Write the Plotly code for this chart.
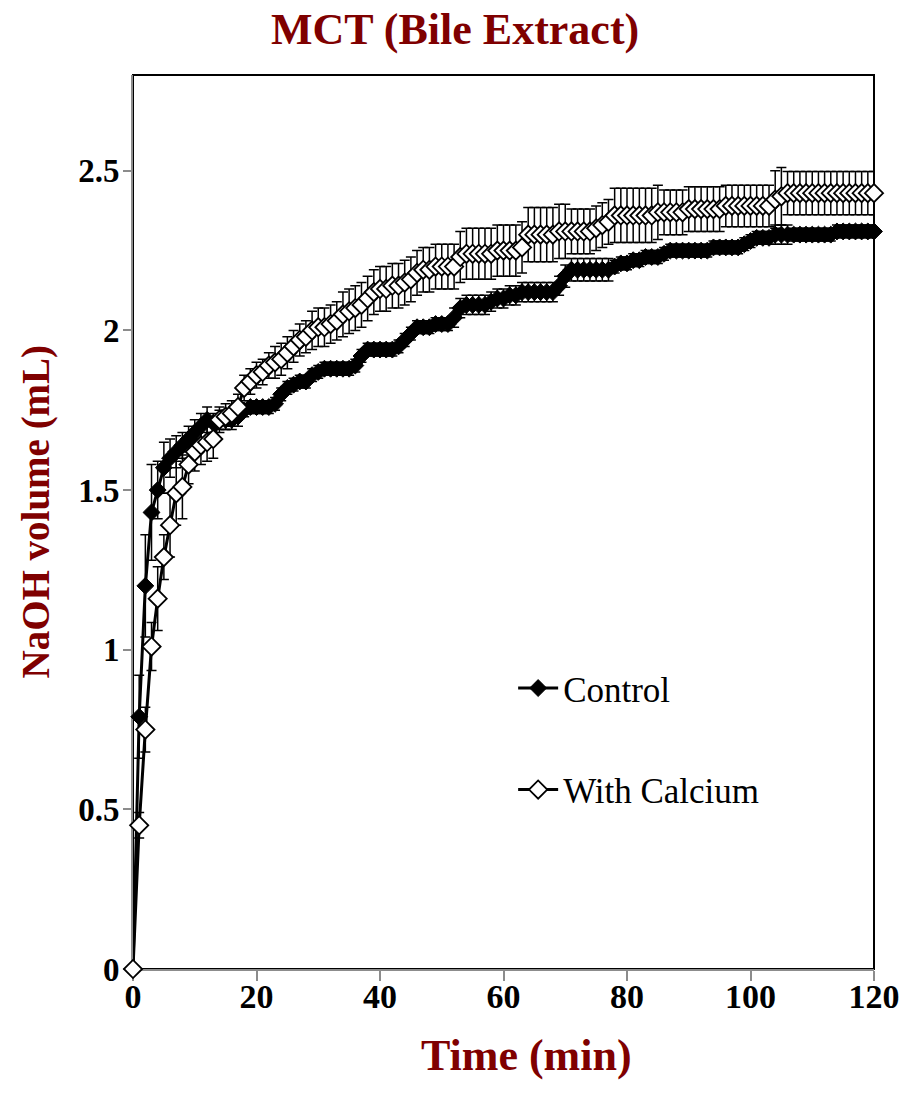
import plotly.graph_objects as go

# Time axis (min), one reading per minute
time_min = list(range(0, 121))

# NaOH volume (mL) titrated, control digestion
control_ml = [
    0.00, 0.79, 1.20, 1.43, 1.50, 1.57, 1.60, 1.62, 1.64, 1.66,
    1.68, 1.70, 1.72, 1.71, 1.72, 1.72, 1.72, 1.73, 1.75, 1.76,
    1.76, 1.76, 1.76, 1.77, 1.80, 1.82, 1.83, 1.84, 1.84, 1.86,
    1.87, 1.88, 1.88, 1.88, 1.88, 1.88, 1.89, 1.92, 1.94, 1.94,
    1.94, 1.94, 1.94, 1.95, 1.97, 1.99, 2.01, 2.01, 2.01, 2.02,
    2.02, 2.02, 2.04, 2.07, 2.08, 2.08, 2.08, 2.08, 2.09, 2.10,
    2.10, 2.11, 2.11, 2.12, 2.12, 2.12, 2.12, 2.12, 2.12, 2.14,
    2.17, 2.19, 2.19, 2.19, 2.19, 2.19, 2.19, 2.19, 2.20, 2.21,
    2.21, 2.22, 2.22, 2.23, 2.23, 2.23, 2.24, 2.25, 2.25, 2.25,
    2.25, 2.25, 2.25, 2.25, 2.26, 2.26, 2.26, 2.26, 2.26, 2.27,
    2.28, 2.29, 2.29, 2.29, 2.30, 2.30, 2.30, 2.30, 2.30, 2.30,
    2.30, 2.30, 2.30, 2.30, 2.31, 2.31, 2.31, 2.31, 2.31, 2.31,
    2.31,
]
control_sd = [
    0.00, 0.13, 0.16, 0.15, 0.09, 0.08, 0.06, 0.05, 0.04, 0.04,
    0.04, 0.04, 0.04, 0.03, 0.03, 0.03, 0.03, 0.03, 0.02, 0.02,
    0.02, 0.02, 0.02, 0.02, 0.02, 0.02, 0.02, 0.02, 0.02, 0.02,
    0.02, 0.02, 0.02, 0.02, 0.02, 0.02, 0.02, 0.02, 0.02, 0.02,
    0.02, 0.02, 0.02, 0.02, 0.02, 0.02, 0.02, 0.02, 0.02, 0.02,
    0.02, 0.02, 0.03, 0.03, 0.03, 0.03, 0.03, 0.03, 0.03, 0.03,
    0.03, 0.03, 0.03, 0.03, 0.03, 0.03, 0.03, 0.03, 0.03, 0.03,
    0.035, 0.035, 0.035, 0.035, 0.035, 0.035, 0.035, 0.035, 0.02, 0.02,
    0.02, 0.02, 0.02, 0.02, 0.02, 0.02, 0.02, 0.02, 0.02, 0.02,
    0.02, 0.02, 0.02, 0.02, 0.02, 0.02, 0.02, 0.02, 0.02, 0.02,
    0.02, 0.02, 0.02, 0.02, 0.03, 0.03, 0.03, 0.02, 0.02, 0.02,
    0.02, 0.02, 0.02, 0.02, 0.02, 0.02, 0.02, 0.02, 0.02, 0.02,
    0.02,
]

# NaOH volume (mL) titrated, digestion with added calcium
calcium_ml = [
    0.00, 0.45, 0.75, 1.01, 1.16, 1.29, 1.39, 1.49, 1.51, 1.58,
    1.62, 1.64, 1.65, 1.66, 1.72, 1.73, 1.74, 1.76, 1.82, 1.84,
    1.86, 1.87, 1.89, 1.90, 1.91, 1.93, 1.95, 1.97, 1.98, 2.00,
    2.01, 2.01, 2.02, 2.03, 2.05, 2.06, 2.07, 2.08, 2.10, 2.12,
    2.13, 2.13, 2.14, 2.14, 2.15, 2.16, 2.18, 2.19, 2.19, 2.20,
    2.20, 2.20, 2.20, 2.23, 2.24, 2.24, 2.24, 2.24, 2.24, 2.25,
    2.25, 2.25, 2.25, 2.26, 2.30, 2.30, 2.30, 2.30, 2.30, 2.31,
    2.31, 2.31, 2.31, 2.31, 2.31, 2.32, 2.33, 2.34, 2.36, 2.36,
    2.36, 2.36, 2.36, 2.36, 2.36, 2.37, 2.37, 2.37, 2.37, 2.37,
    2.38, 2.38, 2.38, 2.38, 2.38, 2.38, 2.39, 2.39, 2.39, 2.39,
    2.39, 2.39, 2.39, 2.39, 2.41, 2.42, 2.43, 2.43, 2.43, 2.43,
    2.43, 2.43, 2.43, 2.43, 2.43, 2.43, 2.43, 2.43, 2.43, 2.43,
    2.43,
]
calcium_sd = [
    0.00, 0.04, 0.07, 0.075, 0.10, 0.07, 0.10, 0.10, 0.10, 0.06,
    0.06, 0.06, 0.06, 0.06, 0.04, 0.04, 0.04, 0.04, 0.04, 0.04,
    0.04, 0.04, 0.04, 0.05, 0.05, 0.05, 0.05, 0.05, 0.05, 0.06,
    0.06, 0.06, 0.06, 0.06, 0.07, 0.07, 0.07, 0.07, 0.07, 0.07,
    0.07, 0.07, 0.07, 0.07, 0.07, 0.07, 0.07, 0.07, 0.07, 0.07,
    0.07, 0.07, 0.07, 0.08, 0.08, 0.08, 0.08, 0.08, 0.08, 0.08,
    0.08, 0.08, 0.08, 0.08, 0.085, 0.085, 0.085, 0.085, 0.085, 0.085,
    0.085, 0.07, 0.07, 0.07, 0.07, 0.07, 0.07, 0.07, 0.085, 0.085,
    0.085, 0.085, 0.085, 0.085, 0.085, 0.085, 0.07, 0.07, 0.07, 0.07,
    0.07, 0.07, 0.07, 0.07, 0.07, 0.07, 0.065, 0.065, 0.065, 0.065,
    0.065, 0.065, 0.065, 0.065, 0.09, 0.09, 0.068, 0.068, 0.068, 0.068,
    0.068, 0.068, 0.068, 0.068, 0.068, 0.068, 0.068, 0.068, 0.068, 0.068,
    0.068,
]

SERIF = "Liberation Serif, Times New Roman, serif"
DARK_RED = "#7f0000"

fig = go.Figure()

fig.add_trace(go.Scatter(
    x=time_min, y=control_ml, name="Control", mode="lines+markers",
    legendgroup="control",
    line=dict(color="black", width=3),
    marker=dict(symbol="diamond", size=13, color="black",
                line=dict(color="black", width=1)),
    error_y=dict(type="data", array=control_sd, visible=True,
                 color="black", thickness=1.5, width=5),
    cliponaxis=False,
))
fig.add_trace(go.Scatter(
    x=time_min, y=calcium_ml, name="With Calcium", mode="lines+markers",
    legendgroup="calcium",
    line=dict(color="black", width=3),
    marker=dict(symbol="diamond", size=14, color="white",
                line=dict(color="black", width=1.8)),
    error_y=dict(type="data", array=calcium_sd, visible=True,
                 color="black", thickness=1.5, width=5),
    cliponaxis=False,
))

# Black frame around the plotting area
fig.add_shape(type="rect", xref="paper", yref="paper", x0=0, y0=0, x1=1, y1=1,
              line=dict(color="black", width=2), layer="below")

fig.update_layout(
    width=912, height=1101,
    margin=dict(l=133, r=34, t=75, b=132),
    paper_bgcolor="white", plot_bgcolor="white",
    showlegend=True,
    legend=dict(
        x=0.513, y=0.347, xanchor="left", yanchor="top",
        font=dict(family=SERIF, size=35, color="black"),
        bgcolor="rgba(0,0,0,0)", tracegroupgap=53,
        itemwidth=40,
    ),
    xaxis=dict(
        range=[0, 120], tickvals=[0, 20, 40, 60, 80, 100, 120],
        showgrid=False, zeroline=False, layer="below traces",
        showline=True, linecolor="#8c8c8c", linewidth=2,
        ticks="outside", ticklen=10, tickcolor="#8c8c8c", tickwidth=1.5,
        ticklabelstandoff=-14,
        tickfont=dict(family=SERIF, size=34, color="black", weight="bold"),
    ),
    yaxis=dict(
        range=[0, 2.8], tickvals=[0, 0.5, 1, 1.5, 2, 2.5],
        ticktext=["0", "0.5", "1", "1.5", "2", "2.5"],
        showgrid=False, zeroline=False, layer="below traces",
        showline=True, linecolor="#8c8c8c", linewidth=2,
        ticks="outside", ticklen=8, tickcolor="#8c8c8c", tickwidth=1.5,
        ticklabelstandoff=-3,
        tickfont=dict(family=SERIF, size=33, color="black", weight="bold"),
    ),
    annotations=[
        dict(text="<b>MCT (Bile Extract)</b>", xref="paper", yref="paper",
             x=(457 - 133) / 745, y=1 + (75 - 30) / 894,
             xanchor="center", yanchor="middle", showarrow=False,
             font=dict(family=SERIF, size=44, color=DARK_RED)),
        dict(text="<b>Time (min)</b>", xref="paper", yref="paper",
             x=(529 - 133) / 745, y=-(1055 - 969) / 894,
             xanchor="center", yanchor="middle", showarrow=False,
             font=dict(family=SERIF, size=44, color=DARK_RED)),
        dict(text="<b>NaOH volume (mL)</b>", xref="paper", yref="paper",
             x=-(133 - 35) / 745, y=(969 - 512) / 894, textangle=-90,
             xanchor="center", yanchor="middle", showarrow=False,
             font=dict(family=SERIF, size=39, color=DARK_RED)),
    ],
)

fig.write_html("out.html")
